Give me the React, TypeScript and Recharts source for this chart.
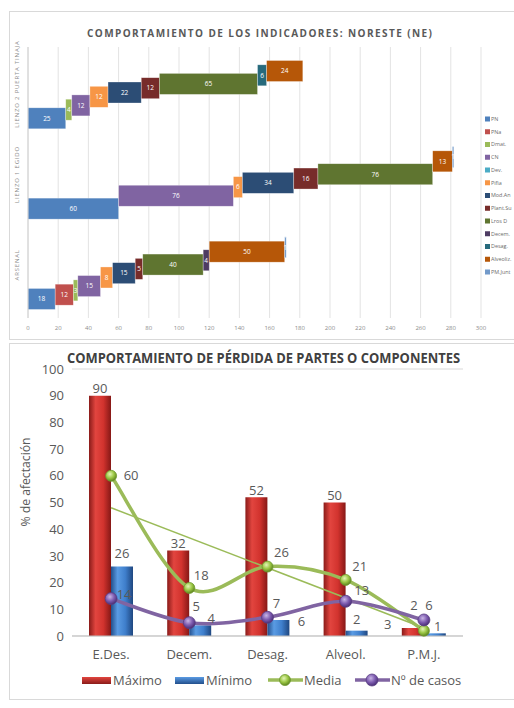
import {
  BarChart,
  Bar,
  ComposedChart,
  Line,
  XAxis,
  YAxis,
  CartesianGrid,
  LabelList,
  ReferenceLine,
} from "recharts";

// ---- gráfico 1: indicadores NE ----
const zonas = ["LIENZO 2 PUERTA TINAJA", "LIENZO 1 EGIDO", "ARSENAL"];
const indicadores = ["PN", "PNa", "Dmat.", "CN", "Dev.", "Pifia", "Mod.An", "Plant.Su", "Lros D", "Decem.", "Desag.", "Alveoliz.", "PM.Junt"];
const pn = [25, 60, 18];
const pna = [0, 0, 12];
const dmat = [4, 0, 3];
const cn = [12, 76, 15];
const dev = [0, 0, 0];
const pifia = [12, 6, 8];
const modAnt = [22, 34, 15];
const plantSup = [12, 16, 5];
const lrosD = [65, 76, 40];
const decem = [0, 0, 4];
const desag = [6, 0, 0];
const alveoliz = [24, 13, 50];
const pmJunt = [0, 1, 1];
const indicadorValores = [pn, pna, dmat, cn, dev, pifia, modAnt, plantSup, lrosD, decem, desag, alveoliz, pmJunt];
const ejeIndicadores = [0, 20, 40, 60, 80, 100, 120, 140, 160, 180, 200, 220, 240, 260, 280, 300];

// ---- gráfico 2: pérdida de partes ----
const partes = ["E.Des.", "Decem.", "Desag.", "Alveol.", "P.M.J."];
const maximo = [90, 32, 52, 50, 3];
const minimo = [26, 4, 6, 2, 1];
const media = [60, 18, 26, 21, 2];
const casos = [14, 5, 7, 13, 6];
const tendenciaMedia = [48, 3]; // línea de tendencia: inicio y fin
const ejePct = [0, 10, 20, 30, 40, 50, 60, 70, 80, 90, 100];

const colores = ["#4F81BD", "#C0504D", "#9BBB59", "#8064A2", "#4BACC6", "#F79646", "#2C4D75", "#772C2A", "#5F7530", "#4D3B62", "#276A7C", "#B65708", "#729ACA"];

const indicadoresData = zonas.map((zona, zi) => {
  const row: Record<string, string | number> = { zona };
  indicadores.forEach((s, si) => (row[s] = indicadorValores[si][zi]));
  return row;
});

const partesData = partes.map((p, i) => ({
  parte: p,
  maximo: maximo[i],
  minimo: minimo[i],
  media: media[i],
  casos: casos[i],
}));

const FONT = "'Open Sans', 'Liberation Sans', sans-serif";
const STEP = 4.3;
const PIVOT = 6;

// cada serie se desplaza un poco hacia arriba (efecto escalera)
const stepShape = (i: number, key: string) => (props: any) => {
  const { x, y, width, height, payload } = props;
  const v = payload?.[key];
  if (!v) return <g />;
  const yy = y + (PIVOT - i) * STEP;
  return (
    <g>
      <rect x={x} y={yy} width={width} height={height} fill={colores[i]} stroke="#ffffff" strokeOpacity={0.5} strokeWidth={0.6} />
      <text x={x + width / 2} y={yy + height / 2} dy="0.35em" textAnchor="middle" fontSize={6.5} fill="#ffffff" fontFamily={FONT}>
        {v}
      </text>
    </g>
  );
};

const zonaTick = (props: any) => {
  const { y, payload } = props;
  return (
    <text
      transform={`translate(19, ${y - 8}) rotate(-90)`}
      textAnchor="middle"
      fontSize={6}
      letterSpacing={0.8}
      fill="#8c8c8c"
      fontFamily={FONT}
    >
      {payload.value}
    </text>
  );
};

// curva suavizada tipo Excel (Catmull-Rom)
const excelSmooth = (context: any) => {
  let pts: number[][] = [];
  return {
    areaStart() {},
    areaEnd() {},
    lineStart() {
      pts = [];
    },
    point(x: number, y: number) {
      pts.push([+x, +y]);
    },
    lineEnd() {
      if (!pts.length) return;
      context.moveTo(pts[0][0], pts[0][1]);
      for (let i = 0; i < pts.length - 1; i++) {
        const p0 = pts[Math.max(i - 1, 0)];
        const p1 = pts[i];
        const p2 = pts[i + 1];
        const p3 = pts[Math.min(i + 2, pts.length - 1)];
        context.bezierCurveTo(
          p1[0] + (p2[0] - p0[0]) / 6,
          p1[1] + (p2[1] - p0[1]) / 6,
          p2[0] - (p3[0] - p1[0]) / 6,
          p2[1] - (p3[1] - p1[1]) / 6,
          p2[0],
          p2[1]
        );
      }
    },
  };
};

const sphereDot = (grad: string, stroke: string, r: number) => (props: any) => {
  const { cx, cy, index } = props;
  return <circle key={index} cx={cx} cy={cy} r={r} fill={`url(#${grad})`} stroke={stroke} strokeWidth={0.8} />;
};

// desplazamientos de etiquetas (como quedaron en el original)
const mediaShift = [[20, 0], [12, -12], [14, -14], [14, -13], [-10, -25]];
const casosShift = [[13, -4], [7, -16], [9, -14], [16, -11], [5, -15]];
const minShift = [[0, 0], [11, 6], [23, 14], [0, 2], [3, 6]];

const lblStyle = { fontSize: 13, fill: "#595959", fontFamily: FONT };

const pointLabel = (shift: number[][]) => (props: any) => {
  const { x, y, value, index } = props;
  const [dx, dy] = shift[index] ?? [10, -10];
  return (
    <text x={x + dx} y={y + dy} dy="0.35em" textAnchor="middle" {...lblStyle}>
      {value}
    </text>
  );
};

const maxLabel = (props: any) => {
  const { x, y, width, value, index } = props;
  const last = index === partes.length - 1;
  return (
    <text x={last ? x - 14 : x + width / 2} y={last ? y - 4 : y - 7} dy="0.35em" textAnchor="middle" {...lblStyle}>
      {value}
    </text>
  );
};

const minLabel = (props: any) => {
  const { x, y, width, value, index } = props;
  const [dx, dy] = minShift[index] ?? [0, 0];
  return (
    <text x={x + width / 2 + dx} y={y - 13 + dy} dy="0.35em" textAnchor="middle" {...lblStyle}>
      {value}
    </text>
  );
};

function Swatch({ x, y, grad }: { x: number; y: number; grad: string }) {
  return <rect x={x} y={y} width={29} height={7} fill={`url(#${grad})`} />;
}

export default function App() {
  return (
    <div style={{ position: "absolute", left: 0, top: 0, width: 514, height: 708, overflow: "hidden", background: "#fff", fontFamily: FONT }}>
      {/* marcos */}
      <div style={{ position: "absolute", left: 9, top: 11, width: 520, height: 327, border: "1px solid #D9D9D9" }} />
      <div style={{ position: "absolute", left: 9, top: 343, width: 520, height: 355, border: "1px solid #D9D9D9" }} />

      <div style={{ position: "absolute", left: 0, top: 0 }}>
        <BarChart
          width={514}
          height={340}
          data={indicadoresData}
          layout="vertical"
          margin={{ top: 47, right: 33, left: 8, bottom: 6 }}
          barSize={21}
        >
          <CartesianGrid horizontal={false} stroke="#E3E3E3" />
          <XAxis
            type="number"
            domain={[0, 300]}
            ticks={ejeIndicadores}
            interval={0}
            tickLine={false}
            axisLine={false}
            height={16}
            tickMargin={2}
            tick={{ fontSize: 6, fill: "#8c8c8c", fontFamily: FONT }}
          />
          <YAxis type="category" dataKey="zona" width={20} tickLine={false} axisLine={{ stroke: "#D0D0D0" }} tick={zonaTick} />
          {indicadores.map((s, i) => (
            <Bar key={s} dataKey={s} stackId="a" fill={colores[i]} shape={stepShape(i, s)} isAnimationActive={false} />
          ))}
        </BarChart>
      </div>

      <div style={{ position: "absolute", left: 0, top: 343 }}>
        <ComposedChart
          width={514}
          height={365}
          data={partesData}
          margin={{ top: 26, right: 0, left: 8, bottom: 42 }}
          barSize={22}
          barGap={0}
        >
          <defs>
            <linearGradient id="gRed" x1="0" y1="0" x2="1" y2="0">
              <stop offset="0%" stopColor="#8A1B19" />
              <stop offset="30%" stopColor="#E2453F" />
              <stop offset="65%" stopColor="#D2332E" />
              <stop offset="100%" stopColor="#861816" />
            </linearGradient>
            <linearGradient id="gBlue" x1="0" y1="0" x2="1" y2="0">
              <stop offset="0%" stopColor="#234F8C" />
              <stop offset="30%" stopColor="#5A9BE3" />
              <stop offset="65%" stopColor="#3F7FCC" />
              <stop offset="100%" stopColor="#1F4780" />
            </linearGradient>
            <radialGradient id="gGreen" cx="40%" cy="35%" r="65%">
              <stop offset="0%" stopColor="#E4F5B8" />
              <stop offset="55%" stopColor="#9BC744" />
              <stop offset="100%" stopColor="#5E8520" />
            </radialGradient>
            <radialGradient id="gPurple" cx="40%" cy="35%" r="65%">
              <stop offset="0%" stopColor="#C9B6E6" />
              <stop offset="55%" stopColor="#7E5CB0" />
              <stop offset="100%" stopColor="#4A2F76" />
            </radialGradient>
          </defs>
          <CartesianGrid vertical={false} stroke="#D9D9D9" />
          <XAxis
            dataKey="parte"
            tickLine={false}
            axisLine={{ stroke: "#BFBFBF" }}
            height={30}
            tickMargin={8}
            tick={{ fontSize: 13, fill: "#595959", fontFamily: FONT }}
          />
          <YAxis
            yAxisId="l"
            domain={[0, 100]}
            ticks={ejePct}
            interval={0}
            width={64}
            tickLine={false}
            axisLine={false}
            tick={{ fontSize: 13, fill: "#595959", fontFamily: FONT }}
          />
          <YAxis
            yAxisId="r"
            orientation="right"
            domain={[0, 100]}
            ticks={ejePct}
            interval={0}
            width={51}
            tickLine={false}
            axisLine={false}
            tickMargin={6}
            tick={{ fontSize: 13, fill: "#595959", fontFamily: FONT, textAnchor: "start" }}
          />
          <Bar yAxisId="l" dataKey="maximo" fill="url(#gRed)" isAnimationActive={false}>
            <LabelList dataKey="maximo" content={maxLabel} />
          </Bar>
          <Bar yAxisId="l" dataKey="minimo" fill="url(#gBlue)" isAnimationActive={false}>
            <LabelList dataKey="minimo" content={minLabel} />
          </Bar>
          <ReferenceLine
            yAxisId="l"
            segment={[
              { x: partes[0], y: tendenciaMedia[0] },
              { x: partes[partes.length - 1], y: tendenciaMedia[1] },
            ]}
            stroke="#9BBB59"
            strokeWidth={1.6}
            ifOverflow="visible"
          />
          <Line
            yAxisId="l"
            dataKey="media"
            type={excelSmooth as any}
            stroke="#9BBB59"
            strokeWidth={3.5}
            dot={sphereDot("gGreen", "#6E9A2E", 5.5)}
            activeDot={false}
            isAnimationActive={false}
          >
            <LabelList dataKey="media" content={pointLabel(mediaShift)} />
          </Line>
          <Line
            yAxisId="l"
            dataKey="casos"
            type={excelSmooth as any}
            stroke="#8064A2"
            strokeWidth={3.5}
            dot={sphereDot("gPurple", "#5A3E84", 6)}
            activeDot={false}
            isAnimationActive={false}
          >
            <LabelList dataKey="casos" content={pointLabel(casosShift)} />
          </Line>
        </ComposedChart>
      </div>

      {/* títulos y leyendas */}
      <svg width={514} height={708} style={{ position: "absolute", left: 0, top: 0, pointerEvents: "none" }}>
        <defs>
          <linearGradient id="lgRed" x1="0" y1="0" x2="0" y2="1">
            <stop offset="0%" stopColor="#E2453F" />
            <stop offset="100%" stopColor="#8A1B19" />
          </linearGradient>
          <linearGradient id="lgBlue" x1="0" y1="0" x2="0" y2="1">
            <stop offset="0%" stopColor="#5A9BE3" />
            <stop offset="100%" stopColor="#234F8C" />
          </linearGradient>
          <radialGradient id="lgGreen" cx="40%" cy="35%" r="65%">
            <stop offset="0%" stopColor="#E4F5B8" />
            <stop offset="55%" stopColor="#9BC744" />
            <stop offset="100%" stopColor="#5E8520" />
          </radialGradient>
          <radialGradient id="lgPurple" cx="40%" cy="35%" r="65%">
            <stop offset="0%" stopColor="#C9B6E6" />
            <stop offset="55%" stopColor="#7E5CB0" />
            <stop offset="100%" stopColor="#4A2F76" />
          </radialGradient>
        </defs>
        <text x={87} y={37} fontSize={10} fontWeight={700} fill="#595959" fontFamily={FONT} textLength={345} lengthAdjust="spacing">
          COMPORTAMIENTO DE LOS INDICADORES: NORESTE (NE)
        </text>
        {indicadores.map((s, i) => (
          <g key={s}>
            <rect x={485} y={116.5 + i * 12.75} width={5} height={5} fill={colores[i]} />
            <text x={491} y={119 + i * 12.75} dy="0.35em" fontSize={5.4} fill="#6b6b6b" fontFamily={FONT}>
              {s}
            </text>
          </g>
        ))}

        <text x={67} y={363} fontSize={14} fontWeight={700} fill="#404040" fontFamily={FONT} textLength={393} lengthAdjust="spacingAndGlyphs">
          COMPORTAMIENTO DE PÉRDIDA DE PARTES O COMPONENTES
        </text>
        <text
          transform="translate(30, 482) rotate(-90)"
          textAnchor="middle"
          fontSize={13}
          fill="#595959"
          fontFamily={FONT}
          textLength={89}
          lengthAdjust="spacingAndGlyphs"
        >
          % de afectación
        </text>

        <Swatch x={82} y={677} grad="lgRed" />
        <text x={113} y={680} dy="0.35em" {...lblStyle}>Máximo</text>
        <Swatch x={175} y={677} grad="lgBlue" />
        <text x={206} y={680} dy="0.35em" {...lblStyle}>Mínimo</text>
        <line x1={268} y1={680} x2={303} y2={680} stroke="#9BBB59" strokeWidth={3.5} />
        <circle cx={285} cy={680} r={5.5} fill="url(#lgGreen)" stroke="#6E9A2E" strokeWidth={0.8} />
        <text x={304} y={680} dy="0.35em" {...lblStyle}>Media</text>
        <line x1={355} y1={680} x2={390} y2={680} stroke="#8064A2" strokeWidth={3.5} />
        <circle cx={372} cy={680} r={6} fill="url(#lgPurple)" stroke="#5A3E84" strokeWidth={0.8} />
        <text x={391} y={680} dy="0.35em" {...lblStyle}>Nº de casos</text>
      </svg>
    </div>
  );
}
